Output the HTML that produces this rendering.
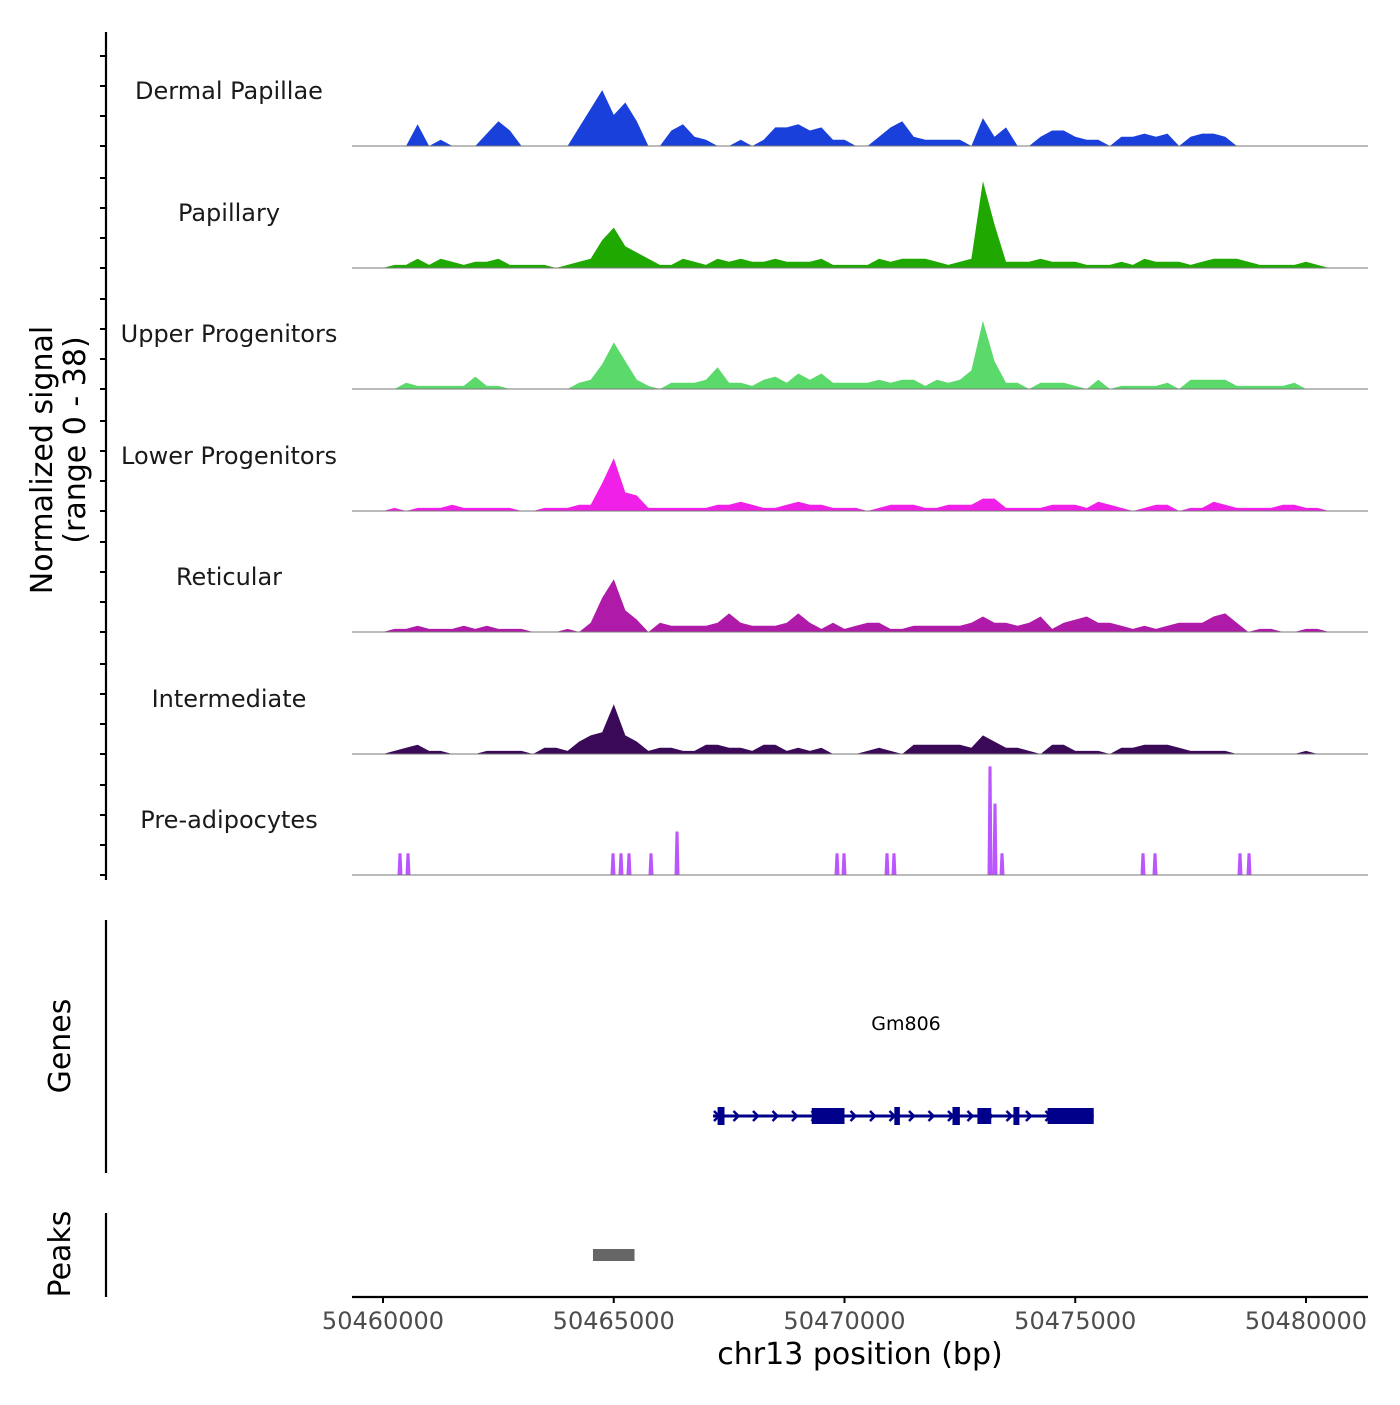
<!DOCTYPE html>
<html><head><meta charset="utf-8"><style>
body{margin:0;background:#fff}
svg text{font-family:"DejaVu Sans","Liberation Sans",sans-serif}
</style></head><body>
<svg id="c" width="1400" height="1400" xmlns="http://www.w3.org/2000/svg"></svg>
<script>
// ---- data ----
const xStart = 50460000;
const binSize = 250;
const trackNames = ["Dermal Papillae","Papillary","Upper Progenitors","Lower Progenitors","Reticular","Intermediate","Pre-adipocytes"];
const trackColors = ["#1a40dc","#1fa800","#5bd96b","#f020e8","#b01aa8","#3a0a58","#bb55ff"];
const dermalPapillae = [0,0,0,7,0,2,0,0,0,4,8,5,0,0,0,0,0,6,12,18,10,14,8,0,0,5,7,3,2,0,0,2,0,2,6,6,7,5,6,2,2,0,0,3,6,8,3,2,2,2,2,0,9,3,6,0,0,3,5,5,3,2,2,0,3,3,4,3,4,0,3,4,4,3,0,0,0,0,0,0,0,0,0,0];
const papillary = [0,1,1,3,1,3,2,1,2,2,3,1,1,1,1,0,1,2,3,9,13,7,5,3,1,1,3,2,1,3,2,3,2,2,3,2,2,2,3,1,1,1,1,3,2,3,3,3,2,1,2,3,28,14,2,2,2,3,2,2,2,1,1,1,2,1,3,2,2,2,1,2,3,3,3,2,1,1,1,1,2,1,0,0];
const upperProgenitors = [0,0,2,1,1,1,1,1,4,1,1,0,0,0,0,0,0,2,3,8,15,9,3,1,0,2,2,2,3,7,2,2,1,3,4,2,5,3,5,2,2,2,2,3,2,3,3,1,3,2,3,6,22,9,2,2,0,2,2,2,1,0,3,0,1,1,1,1,2,0,3,3,3,3,1,1,1,1,1,2,0,0,0,0];
const lowerProgenitors = [0,1,0,1,1,1,2,1,1,1,1,1,0,0,1,1,1,2,2,9,17,6,5,1,1,1,1,1,1,2,2,3,2,1,1,2,3,2,2,1,1,1,0,1,2,2,2,1,1,2,2,2,4,4,1,1,1,1,2,2,2,1,3,2,1,0,1,2,2,0,1,1,3,2,1,1,1,1,2,2,1,1,0,0];
const reticular = [0,1,1,2,1,1,1,2,1,2,1,1,1,0,0,0,1,0,3,11,17,7,4,0,3,2,2,2,2,3,6,3,2,2,2,3,6,3,1,3,1,2,3,3,1,1,2,2,2,2,2,3,5,3,3,2,3,5,1,3,4,5,3,3,2,1,2,1,2,3,3,3,5,6,3,0,1,1,0,0,1,1,0,0];
const intermediate = [0,1,2,3,1,1,0,0,0,1,1,1,1,0,2,2,1,4,6,7,16,6,4,1,2,2,1,1,3,3,2,2,1,3,3,1,2,1,2,0,0,0,1,2,1,0,3,3,3,3,3,2,6,4,2,2,1,0,3,3,1,1,1,0,2,2,3,3,3,2,1,1,1,1,0,0,0,0,0,0,1,0,0,0];
const preAdipPos = [50460368,50460542,50464984,50465157,50465330,50465807,50466371,50469838,50469989,50470921,50471072,50473153,50473261,50473413,50476468,50476728,50478570,50478765];
const preAdipVal = [7,7,7,7,7,7,14,7,7,7,7,35,23,7,7,7,7,7];
const xTicks = [50460000,50465000,50470000,50475000,50480000];
const exonStarts = [50467250,50469290,50471080,50472340,50472880,50473660,50474400];
const exonEnds =   [50467400,50470000,50471200,50472500,50473180,50473790,50475400];
const geneStart = 50467150, geneEnd = 50475400;
const peakStart = 50464550, peakEnd = 50465450;

// ---- scales ----
const NS="http://www.w3.org/2000/svg";
const svg=document.getElementById('c');
const X = bp => 383 + (bp - xStart) * (923/20000);
const yMax = 38, panelH = 118;
const baselines = [146,268,389,511,632,754,875];
const Y = (v,b) => b - v/yMax*panelH;
function el(tag, attrs, parent){const e=document.createElementNS(NS,tag);for(const k in attrs)e.setAttribute(k,attrs[k]);(parent||svg).appendChild(e);return e;}
function txt(s,attrs){const t=el('text',attrs);t.textContent=s;return t;}

// left axis
const ax=el('line',{x1:106,y1:32,x2:106,y2:880,stroke:'#000','stroke-width':2.2});


baselines.forEach(b=>{for(let k=0;k<4;k++){const t=el('line',{x1:100,x2:106,y1:b-k*30,y2:b-k*30,stroke:'#000','stroke-width':2});

}});
const yt=txt('Normalized signal',{x:0,y:0,'font-size':30,'text-anchor':'middle',transform:'translate(52,460) rotate(-90)'});


const yt2=txt('(range 0 - 38)',{x:0,y:0,'font-size':30,'text-anchor':'middle',transform:'translate(85,440) rotate(-90)'});



const series=[dermalPapillae,papillary,upperProgenitors,lowerProgenitors,reticular,intermediate];
series.forEach((arr,ti)=>{
  const b=baselines[ti];
  let d=`M${X(xStart)},${b}`;
  arr.forEach((v,i)=>{d+=` L${X(xStart+i*binSize).toFixed(1)},${Y(v,b).toFixed(1)}`;});
  d+=` L${X(xStart+(arr.length-1)*binSize)},${b} Z`;
  const p=el('path',{d:d,fill:trackColors[ti]});
  
  
});
// pre-adipocytes spikes
{const b=baselines[6];
 preAdipPos.forEach((pos,i)=>{const x=X(pos);const v=preAdipVal[i];
  const p=el('path',{d:`M${x-2.5},${b} L${x-1.5},${Y(v,b)} L${x+1.5},${Y(v,b)} L${x+2.5},${b} Z`,fill:trackColors[6]});
  
  });}
baselines.forEach((b,ti)=>{
  const l=el('line',{x1:352,x2:1368,y1:b,y2:b,stroke:'#777','stroke-width':1});
  
  
  const t=txt(trackNames[ti],{x:229,y:b-47,'font-size':24,'text-anchor':'middle',fill:'#1a1a1a'});
  
  
});

// genes panel
const ga=el('line',{x1:106,y1:920,x2:106,y2:1173,stroke:'#000','stroke-width':2.2});


const gt=txt('Genes',{x:0,y:0,'font-size':30,'text-anchor':'middle',transform:'translate(70,1046) rotate(-90)'});


const gn=txt('Gm806',{x:906,y:1030,'font-size':19,'text-anchor':'middle'});


const gl=el('line',{x1:X(geneStart),x2:X(geneEnd),y1:1116,y2:1116,stroke:'#00008b','stroke-width':3});


for(let x=X(geneStart)+4;x<X(geneEnd)-4;x+=19.5){
  const c=el('polyline',{points:`${x-3},${1111} ${x+2},${1116} ${x-3},${1121}`,fill:'none',stroke:'#00008b','stroke-width':2.5});
  
  
}
exonStarts.forEach((s,i)=>{const w=X(exonEnds[i])-X(s);
  const r=el('rect',{x:X(s),y:w<12?1107:1108,width:w,height:w<12?18:16,fill:'#00008b'});
  
  });

// peaks panel
const pa=el('line',{x1:106,y1:1213,x2:106,y2:1297,stroke:'#000','stroke-width':2.2});


const pt=txt('Peaks',{x:0,y:0,'font-size':30,'text-anchor':'middle',transform:'translate(70,1254) rotate(-90)'});


const pk=el('rect',{x:X(peakStart),y:1249,width:X(peakEnd)-X(peakStart),height:12,fill:'#666'});



// x axis
const xa=el('line',{x1:352,x2:1368,y1:1297,y2:1297,stroke:'#000','stroke-width':2.2});


xTicks.forEach(v=>{
  const t=el('line',{x1:X(v),x2:X(v),y1:1297,y2:1303,stroke:'#000','stroke-width':2});
  
  
  const l=txt(String(v),{x:X(v),y:1329,'font-size':24,'text-anchor':'middle',fill:'#4d4d4d'});
  
  
});
const xt=txt('chr13 position (bp)',{x:860,y:1364,'font-size':30,'text-anchor':'middle'});


</script>
</body></html>
